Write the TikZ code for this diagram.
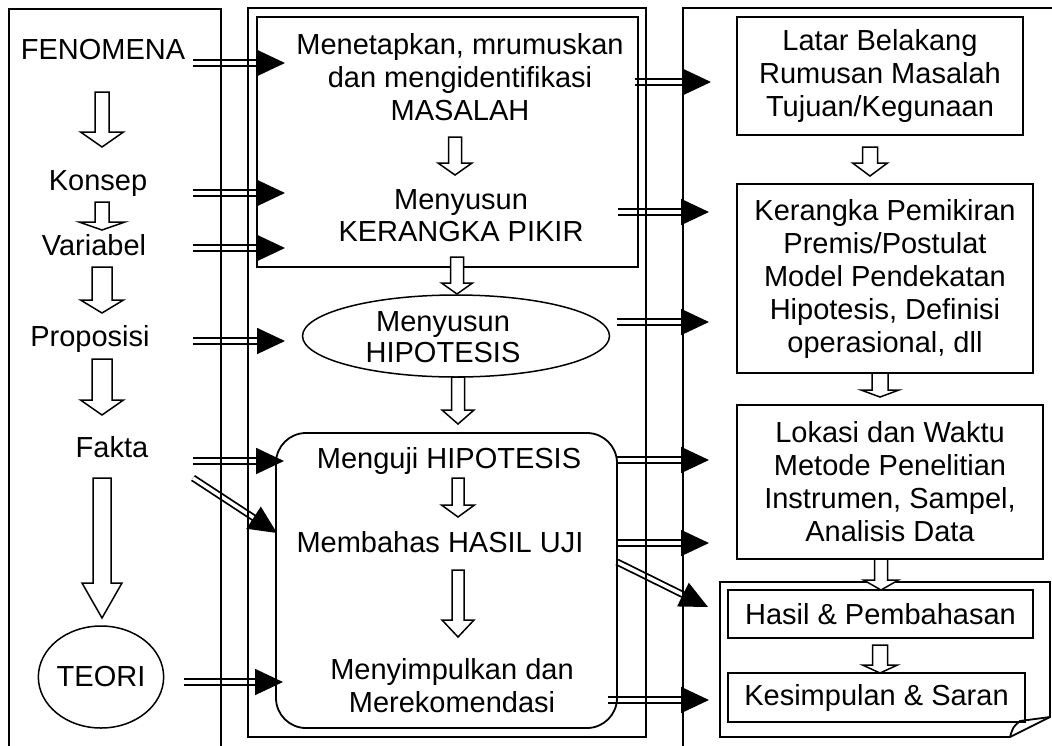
\documentclass[tikz,border=0pt]{standalone}
\usepackage{fontspec}
\setmainfont{Liberation Sans}
\usetikzlibrary{arrows.meta,shapes.geometric}
\tikzset{
  txt/.style={font=\fontsize{29}{33}\selectfont, align=center, inner sep=0pt},
  frame/.style={draw, line width=1.8pt},
  boxn/.style={draw, line width=1.8pt, txt},
  hol/.style={draw, line width=1.5pt, fill=white, line join=miter},
  dbl/.style={double, double distance=3.5pt, line width=1.8pt, -{Triangle[length=28pt,width=26pt]}}
}
\newcommand\hdown[6]{\draw[hol] ({#1-#5},#2) -- ({#1+#5},#2) -- ({#1+#5},#3) -- ({#1+#6},#3) -- (#1,#4) -- ({#1-#6},#3) -- ({#1-#5},#3) -- cycle;}
\begin{document}
\begin{tikzpicture}[x=1pt,y=-1pt]
\clip (0,0) rectangle (1052,745);
\fill[white] (0,0) rectangle (1052,745);
% arrow end points
\coordinate (a1s) at (193,63);  \coordinate (a1e) at (285,63);
\coordinate (a2s) at (193,193); \coordinate (a2e) at (285,193);
\coordinate (a3s) at (193,248); \coordinate (a3e) at (285,248);
\coordinate (a4s) at (193,341); \coordinate (a4e) at (285,341);
\coordinate (a5s) at (193,461); \coordinate (a5e) at (284,461);
\coordinate (a6s) at (193,478); \coordinate (a6e) at (277,533);
\coordinate (a7s) at (184,682); \coordinate (a7e) at (283,682);
\coordinate (b1s) at (635,82);  \coordinate (b1e) at (711,82);
\coordinate (b2s) at (618,212); \coordinate (b2e) at (709,212);
\coordinate (b3s) at (617,322); \coordinate (b3e) at (709,322);
\coordinate (b4s) at (617,460); \coordinate (b4e) at (709,460);
\coordinate (b5s) at (617,543); \coordinate (b5e) at (709,543);
\coordinate (b6s) at (617,562); \coordinate (b6e) at (708,607);
\coordinate (b7s) at (608,700); \coordinate (b7e) at (709,700);
\foreach \p in {a1,a2,a3,a4,a5,a6,a7,b1,b2,b3,b4,b5,b6,b7}
  \draw[dbl] (\p s) -- (\p e);
% column frames
\draw[frame] (9,760) -- (9,9) -- (221,9) -- (221,760);
\draw[frame] (248,8) rectangle (646,737);
\draw[frame] (683,760) -- (683,8) -- (1060,8);
\draw[frame] (257,17) rectangle (638,267);
\draw[frame, rounded corners=30pt] (276,433) rectangle (617,728);
% folded page
\draw[frame, line join=miter] (720,582) -- (1050,582) -- (1050,717) -- (1010,737) -- (720,737) -- cycle;
\draw[frame] (1010,737) .. controls (1013,727) .. (1020,721) -- (1050,717);
% left column
\node[txt] (feno) at (103,50) {FENOMENA};
\node[txt] (konsep) at (98,184) {Konsep};
\node[txt] (var) at (94,245) {Variabel};
\node[txt] (prop) at (90,339) {Proposisi};
\node[txt] (fakta) at (112,447) {Fakta};
\node[draw, ellipse, line width=1.5pt, minimum width=112pt, minimum height=102pt, txt] (teori) at (101,677) {TEORI};
% middle column
\node[txt] (masalah) at (460,77) {Menetapkan, mrumuskan\\dan mengidentifikasi\\MASALAH};
\node[txt, font=\fontsize{29}{32}\selectfont] (kerangka) at (461,216) {Menyusun\\KERANGKA PIKIR};
\node[draw, ellipse, line width=1.5pt, minimum width=307pt, minimum height=82pt, inner sep=0pt] (hipo) at (456,336) {};
\node[txt, font=\fontsize{29}{31}\selectfont] (hipot) at (443,337) {Menyusun\\HIPOTESIS};
\node[txt] (uji) at (449,461) {Menguji HIPOTESIS};
\node[txt] (bahas) at (440,542) {Membahas HASIL UJI};
\node[txt] (simpul) at (452,686) {Menyimpulkan dan\\Merekomendasi};
% right column
\node[boxn, minimum width=286pt, minimum height=118pt] (latar) at (880,76) {Latar Belakang\\Rumusan Masalah\\Tujuan/Kegunaan};
\node[boxn, minimum width=296pt, minimum height=189pt] (kp) at (885,278.5) {Kerangka Pemikiran\\Premis/Postulat\\Model Pendekatan\\Hipotesis, Definisi\\operasional, dll};
\node[boxn, minimum width=306pt, minimum height=154pt] (lok) at (890,482) {Lokasi dan Waktu\\Metode Penelitian\\Instrumen, Sampel,\\Analisis Data};
\node[boxn, minimum width=305pt, minimum height=48pt] (hasil) at (880.5,614) {Hasil \& Pembahasan};
\node[boxn, minimum width=297pt, minimum height=49pt] (kesim) at (876.5,697.5) {Kesimpulan \& Saran};
% hollow arrows
\hdown{102}{92}{132}{147}{7}{21.5}
\hdown{102}{202}{222}{230}{7}{23}
\hdown{102}{267}{300}{313}{10}{21.5}
\hdown{102}{359}{400}{415}{10}{21.5}
\hdown{102}{478}{583}{618}{9}{20}
\hdown{455}{137}{163}{175}{6.5}{17}
\hdown{457}{257}{283}{294}{6.5}{15.5}
\hdown{458}{377}{410}{424}{6.5}{16}
\hdown{458}{478}{505}{517}{6}{16.5}
\hdown{458}{570}{620}{637}{6}{16}
\hdown{870}{147}{163}{176}{7.5}{17.5}
\hdown{880}{373}{390}{397}{8}{19}
\hdown{881}{559}{580}{590}{6.5}{17.5}
\hdown{880}{645}{665}{673}{7.5}{17.5}
\end{tikzpicture}
\end{document}
